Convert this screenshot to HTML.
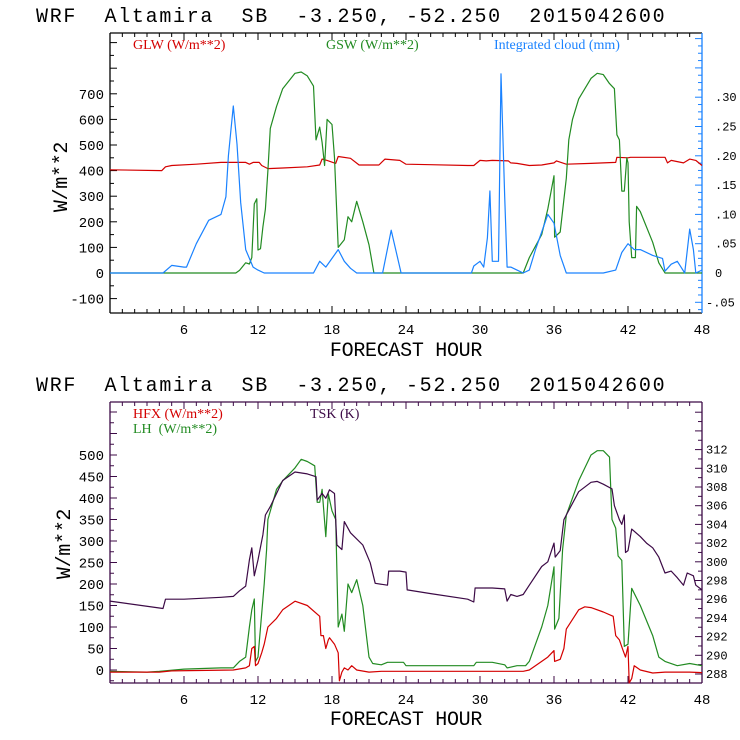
<!DOCTYPE html>
<html><head><meta charset="utf-8"><style>
html,body{margin:0;padding:0;background:#fff;}
svg{display:block;font-family:"Liberation Mono",monospace;}
text{white-space:pre;}
.t{font-size:20px;letter-spacing:1.7px;fill:#000;}
.at{font-size:20px;letter-spacing:-0.3px;fill:#000;}
.tk{font-size:14px;fill:#000;}
.rk{font-size:12px;fill:#000;}
.lg{font-family:"Liberation Serif",serif;font-size:14px;}
</style></head><body>
<svg id="c" width="740" height="740" viewBox="0 0 740 740" xmlns="http://www.w3.org/2000/svg" xml:space="preserve">
<rect width="740" height="740" fill="#fff"/>
<text class="t" x="36" y="22">WRF  Altamira  SB  -3.250, -52.250  2015042600</text>
<text class="t" x="36" y="391">WRF  Altamira  SB  -3.250, -52.250  2015042600</text>
<g id="top"></g>
<g id="bot"></g>
</svg>
<script>
// ---- top panel data ----
const glwHours=[0,4.2,4.5,5,7,9,11,11.3,11.6,12.1,12.3,12.8,14,16,17,17.2,17.6,18.3,18.5,19.5,20.2,21.8,22.3,23.5,24,26,29,29.5,30,30.5,31,32.3,32.5,33,34,35,36,36.2,37,39,40,41,41.1,42,42.2,45,45.2,45.5,46.5,47,47.5,48];
const glwValues=[403,400,415,420,425,432,432,425,432,432,420,408,410,415,422,445,440,428,455,448,422,422,445,440,425,423,420,420,440,438,440,438,430,428,420,422,430,438,425,428,430,432,452,450,452,452,430,440,430,445,440,420];
const gswHours=[0,10.2,10.5,11,11.3,11.5,11.7,11.9,12,12.2,12.4,12.6,12.8,13,13.5,14,15,15.5,16,16.5,16.7,17,17.2,17.4,17.6,18,18.2,18.5,19,19.3,19.6,20,20.5,21,21.4,33.5,34,35,35.5,36,36.05,36.5,37,37.2,37.5,38,39,39.5,40,40.5,40.9,41.1,41.3,41.5,41.7,41.9,42,42.1,42.3,42.6,42.7,43,44,44.5,45,48];
const gswValues=[0,0,10,40,35,60,270,290,90,95,180,250,400,565,650,720,780,785,770,730,520,570,510,420,600,580,450,100,130,220,200,280,200,110,0,0,60,150,250,380,140,160,370,520,600,680,760,780,775,740,720,540,520,320,320,450,430,200,60,60,260,240,120,40,0,0];
const cloudHours=[0,4.3,5,6,6.2,7,8,9,9.4,9.6,10,10.3,10.6,11,11.3,11.6,12,12.5,16.5,17,17.5,18,18.5,19,19.5,20,22.1,22.8,23.6,29.3,29.5,30,30.3,30.6,30.8,31,31.5,31.7,32,32.2,32.5,33,33.5,34,34.5,35,35.5,36,36.5,37,40,41,41.5,42,42.5,43,44,44.8,45,45.5,46,46.3,46.6,47,47.3,47.5,48];
const cloudValues=[0,0,0.013,0.01,0.01,0.05,0.09,0.10,0.13,0.20,0.285,0.22,0.12,0.04,0.025,0.01,0.005,0,0,0.02,0.01,0.025,0.04,0.02,0.008,0,0,0.073,0,0,0.012,0.02,0.01,0.06,0.14,0.02,0.02,0.34,0.13,0.01,0.01,0.005,0,0.005,0.04,0.07,0.10,0.085,0.03,0,0,0.005,0.035,0.05,0.04,0.04,0.03,0.025,0.003,0.015,0.02,0.01,0,0.075,0.04,0,0.005];
const topLeftTicks=[-100,0,100,200,300,400,500,600,700];
const topRightTicks=[-0.05,0,0.05,0.10,0.15,0.20,0.25,0.30];
const topRightLabels=["-.05","0",".05",".10",".15",".20",".25",".30"];
const xTicks=[6,12,18,24,30,36,42,48];
// ---- bottom panel data ----
const tskHours=[0,4.3,4.5,6,9,10,10.5,11,11.3,11.5,11.7,12,12.4,12.6,13,14,15,16,16.7,16.8,17.2,17.5,17.8,18.2,18.4,18.8,19,19.5,20.5,21.1,21.5,22.5,22.6,23.5,24,24.1,26,29,29.5,29.6,30,31,32,32.2,32.5,33,33.5,34,35,35.5,36,36.1,36.5,36.8,37,38,39,39.5,40,40.7,40.9,41.3,41.5,41.7,41.8,42,42.3,43,43.5,44,44.5,45,45.5,46,46.5,46.8,47.3,47.5,48];
const tskValues=[295.8,295.0,296.0,296.0,296.2,296.3,296.9,297.4,300.2,301.5,298.5,300.2,302.9,305.0,305.9,308.7,309.6,309.4,309.1,306.6,307.3,306.8,307.7,307.3,301.8,301.3,304.3,303.1,301.8,299.9,297.7,297.5,299.0,299.0,298.9,297.0,296.6,296,295.7,297.2,297.2,297.2,297.1,295.8,296.5,296.3,296.5,297.5,299.5,300,302,300.5,301.2,304.5,305,307.5,308.5,308.6,308.3,307.8,306,304.5,304,305,301,301.2,303.5,302.7,302,301.5,300.5,298.8,299,298.3,297.5,298.8,298.5,297.5,297];
const hfxHours=[0,4,5,10,11,11.3,11.5,11.7,11.8,12,12.3,12.5,12.8,13.5,14,15,16,17,17.1,17.3,17.5,17.7,17.8,18.2,18.5,18.6,18.8,19,19.3,19.6,20,21,22,33.5,34,35,35.5,36,36.05,36.5,36.8,37,38,38.5,39,40,40.8,41,41.3,41.6,41.8,42,42.1,42.3,42.5,43,44,45,46,47,48];
const hfxValues=[-5,-5,-2,0,5,10,50,55,10,15,40,60,100,120,140,160,150,125,80,80,50,70,75,60,40,-25,-5,5,0,10,0,-5,-3,-3,0,20,30,45,20,25,50,95,140,147,145,135,125,80,70,45,30,55,-30,-20,10,0,-7,-5,-5,-5,-6];
const lhHours=[0,3,4,6,9,10,10.5,11,11.3,11.5,11.7,11.8,12,12.5,12.7,12.8,13.5,14,15,15.5,16,16.6,16.8,17,17.2,17.5,17.7,18,18.3,18.5,18.8,19,19.3,19.6,20,20.5,21,21.3,22,22.5,23.8,24,29.5,29.7,31,32,32.2,33,33.7,34,35,35.5,36,36.05,36.4,36.7,37,38,39,39.5,40,40.5,40.7,41,41.2,41.5,41.7,42,42.3,43,44,44.5,45,46,47,48];
const lhValues=[-3,-5,-3,2,5,5,20,30,100,140,165,20,30,200,280,350,420,440,470,490,485,475,390,390,420,310,410,370,350,100,130,90,200,180,210,150,30,15,12,18,18,10,10,18,18,12,5,10,10,20,100,150,240,95,120,280,360,440,500,510,510,495,350,330,265,255,55,60,190,150,80,30,20,10,15,10];
const botLeftTicks=[0,50,100,150,200,250,300,350,400,450,500];
const botRightTicks=[288,290,292,294,296,298,300,302,304,306,308,310,312];

const NS="http://www.w3.org/2000/svg";
function el(p,tag,attrs,txt){const e=document.createElementNS(NS,tag);for(const k in attrs)e.setAttribute(k,attrs[k]);if(txt!==undefined)e.textContent=txt;p.appendChild(e);return e;}
const X0=110,X1=702;
const xs=h=>X0+(X1-X0)*h/48;

function frame(g,y0,y1,colL,colR){
  el(g,'line',{x1:X0,y1:y0,x2:X1,y2:y0,stroke:colL,'stroke-width':1.3});
  el(g,'line',{x1:X0,y1:y1,x2:X1,y2:y1,stroke:colL,'stroke-width':1.3});
  el(g,'line',{x1:X0,y1:y0,x2:X0,y2:y1,stroke:colL,'stroke-width':1.3});
  el(g,'line',{x1:X1,y1:y0,x2:X1,y2:y1,stroke:colR,'stroke-width':1.3});
  for(let h=1;h<48;h++){const x=xs(h);const L=h%6===0?7:4;
    el(g,'line',{x1:x,y1:y1,x2:x,y2:y1-L,stroke:colL});
    el(g,'line',{x1:x,y1:y0,x2:x,y2:y0+L,stroke:colL});}
  xTicks.forEach(h=>{const t=el(g,'text',{class:'tk',x:xs(h),y:y1+21,'text-anchor':'middle'},String(h));
    
    });
}
function line(g,hours,vals,ys,color,name){
  const pts=hours.map((h,i)=>xs(h).toFixed(1)+','+ys(vals[i]).toFixed(1)).join(' ');
  const p=el(g,'polyline',{points:pts,fill:'none',stroke:color,'stroke-width':1.2,'stroke-linejoin':'round'});
  
  
}
// TOP
(function(){
  const g=document.getElementById('top');const y0=33,y1=313;
  const yL=v=>273-v*0.256, yR=c=>273-c*586;
  const BLUE='#1a82ff';
  frame(g,y0,y1,'#000',BLUE);
  for(let v=-150;v<=900;v+=50){const y=yL(v);if(y<y0+2||y>y1-2)continue;const L=v%100===0?7:4;
    el(g,'line',{x1:X0,y1:y,x2:X0+L,y2:y,stroke:'#000'});}
  topLeftTicks.forEach(v=>{const t=el(g,'text',{class:'tk',x:X0-6,y:yL(v)+5,'text-anchor':'end'},String(v));
    
    });
  for(let c=-0.0625;c<=0.41;c+=0.0125){const y=yR(c);if(y<y0+2||y>y1-2)continue;const L=Math.abs(Math.round(c/0.05)*0.05-c)<1e-6?7:4;
    el(g,'line',{x1:X1,y1:y,x2:X1-L,y2:y,stroke:BLUE});}
  topRightTicks.forEach((c,i)=>{const t=el(g,'text',{class:'rk',x:X1+(c<0?4:13),y:yR(c)+4},topRightLabels[i]);
    
    });
  line(g,glwHours,glwValues,yL,'#d40000','glw-line');
  line(g,gswHours,gswValues,yL,'#228b22','gsw-line');
  line(g,cloudHours,cloudValues,yR,BLUE,'cloud-line');
  const a=el(g,'text',{class:'lg',x:133,y:49,fill:'#d40000'},'GLW (W/m**2)');
  const b=el(g,'text',{class:'lg',x:326,y:49,fill:'#228b22'},'GSW (W/m**2)');
  const c=el(g,'text',{class:'lg',x:494,y:49,fill:BLUE},'Integrated cloud (mm)');
  const yt=el(g,'text',{class:'at',x:0,y:0,transform:'translate(67,177) rotate(-90)','text-anchor':'middle'},'W/m**2');
  const xt=el(g,'text',{class:'at',x:406,y:356,'text-anchor':'middle'},'FORECAST HOUR');
})();
// BOTTOM
(function(){
  const g=document.getElementById('bot');const y0=402,y1=683;
  const yL=v=>670-v*0.43, yR=t=>674-(t-288)*9.35;
  const P='#3c0a46';
  frame(g,y0,y1,P,P);
  for(let v=-25;v<=625;v+=25){const y=yL(v);if(y<y0+2||y>y1-2)continue;const L=v%50===0?7:4;
    el(g,'line',{x1:X0,y1:y,x2:X0+L,y2:y,stroke:P});}
  botLeftTicks.forEach(v=>{const t=el(g,'text',{class:'tk',x:X0-6,y:yL(v)+5,'text-anchor':'end'},String(v));
    
    });
  for(let k=288;k<=317;k++){const y=yR(k);if(y<y0+2||y>y1-2)continue;const L=k%2===0?7:4;
    el(g,'line',{x1:X1,y1:y,x2:X1-L,y2:y,stroke:P});}
  botRightTicks.forEach(k=>{const t=el(g,'text',{class:'rk',x:X1+4,y:yR(k)+4},String(k));
    
    });
  line(g,lhHours,lhValues,yL,'#228b22','lh-line');
  line(g,tskHours,tskValues,yR,P,'tsk-line');
  line(g,hfxHours,hfxValues,yL,'#d40000','hfx-line');
  const a=el(g,'text',{class:'lg',x:133,y:418,fill:'#d40000'},'HFX (W/m**2)');
  const b=el(g,'text',{class:'lg',x:133,y:433,fill:'#228b22'},'LH  (W/m**2)');
  const c=el(g,'text',{class:'lg',x:310,y:418,fill:P},'TSK (K)');
  const yt=el(g,'text',{class:'at',x:0,y:0,transform:'translate(70,544) rotate(-90)','text-anchor':'middle'},'W/m**2');
  const xt=el(g,'text',{class:'at',x:406,y:725,'text-anchor':'middle'},'FORECAST HOUR');
})();
</script>
</body></html>
